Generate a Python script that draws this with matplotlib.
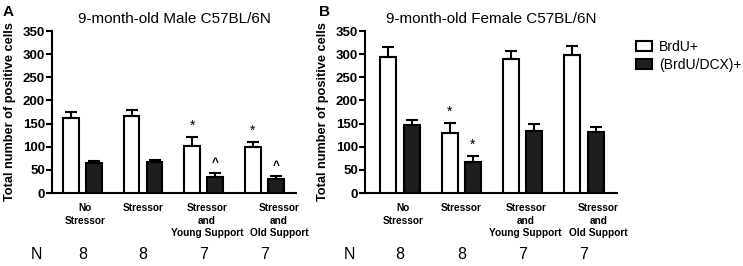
import matplotlib.pyplot as plt
import numpy as np

plt.rcParams['font.family'] = ['Liberation Sans', 'DejaVu Sans']

# Groups and sample sizes
groups = ['No\nStressor', 'Stressor', 'Stressor\nand\nYoung Support', 'Stressor\nand\nOld Support']
n_values = ['8', '8', '7', '7']

# Male (panel A)
male_brdu = [161, 167, 101, 100]
male_brdu_err = [13, 13, 21, 11]
male_dcx = [64, 66, 34, 30]
male_dcx_err = [6, 6, 9, 7]

# Female (panel B)
female_brdu = [293, 130, 289, 298]
female_brdu_err = [22, 22, 17, 19]
female_dcx = [146, 67, 133, 131]
female_dcx_err = [12, 13, 15, 11]

# significance marks: (group, series, symbol)
male_marks = [(2, 0, '*'), (3, 0, '*'), (2, 1, '^'), (3, 1, '^')]
female_marks = [(1, 0, '*'), (1, 1, '*')]

fig = plt.figure(figsize=(7.43, 2.66), dpi=100)
ax1 = fig.add_axes([52 / 743, 73 / 266, 244 / 743, 162 / 266])
ax2 = fig.add_axes([365 / 743, 73 / 266, 252 / 743, 162 / 266])

x = np.arange(len(groups))
w = 0.26
off = 0.19
label_shift = [0.05, 0.0, 0.05, 0.24]


def draw_panel(ax, brdu, brdu_err, dcx, dcx_err, marks, title, xlim):
    err_kw = dict(ecolor='black', elinewidth=1.5, capsize=4, capthick=1.5)
    ax.bar(x - off, brdu, w, yerr=[np.zeros(4), brdu_err], color='white',
           edgecolor='black', linewidth=1.5, error_kw=err_kw, label='BrdU+', zorder=3)
    ax.bar(x + off, dcx, w, yerr=[np.zeros(4), dcx_err], color='#1e1e1e',
           edgecolor='black', linewidth=1.5, error_kw=err_kw, label='(BrdU/DCX)+', zorder=3)
    for g, s, sym in marks:
        if s == 0:
            top = brdu[g] + brdu_err[g]
            xp = x[g] - off
        else:
            top = dcx[g] + dcx_err[g]
            xp = x[g] + off
        if sym == '*':
            ax.text(xp, top + 8, '*', ha='center', va='bottom', fontsize=10)
        else:
            ax.text(xp, top + 8, '^', ha='center', va='bottom', fontsize=8.5, fontweight='bold')
    ax.set_ylim(0, 350)
    ax.set_xlim(*xlim)
    ax.set_yticks(range(0, 351, 50))
    ax.set_xticks([])
    ax.tick_params(axis='y', length=4, width=1.5, labelsize=9.5, pad=1)
    for lab in ax.get_yticklabels():
        lab.set_fontweight('bold')
    for sp in ['top', 'right']:
        ax.spines[sp].set_visible(False)
    for sp in ['left', 'bottom']:
        ax.spines[sp].set_linewidth(1.5)
    ax.set_ylabel('Total number of positive cells', fontsize=9.2, fontweight='bold', labelpad=5)
    ax.set_title(title, fontsize=11, pad=6)
    trans = ax.get_xaxis_transform()
    # category labels
    for xi, g, sh in zip(x, groups, label_shift):
        ax.text(xi + sh, -0.06, g, transform=trans, ha='center', va='top',
                fontsize=7.3, fontweight='bold', linespacing=1.35)
    # N row
    for xi, n in zip(x, n_values):
        ax.text(xi, -0.38, n, transform=trans, ha='center', va='center', fontsize=11.5)
    ax.text(xlim[0] - 0.25, -0.38, 'N', transform=trans, ha='center', va='center', fontsize=11.5)


draw_panel(ax1, male_brdu, male_brdu_err, male_dcx, male_dcx_err, male_marks,
           '9-month-old Male C57BL/6N', (-0.5, 3.52))
draw_panel(ax2, female_brdu, female_brdu_err, female_dcx, female_dcx_err, female_marks,
           '9-month-old Female C57BL/6N', (-0.57, 3.54))

fig.text(3 / 743, 1 - 12.5 / 266, 'A', fontsize=11, fontweight='bold', va='center')
fig.text(319 / 743, 1 - 12.5 / 266, 'B', fontsize=11, fontweight='bold', va='center')

handles, labels = ax2.get_legend_handles_labels()
fig.legend(handles, labels, loc='upper left', bbox_to_anchor=(630 / 743, 1 - 34 / 266),
           frameon=False, fontsize=10, handlelength=1.15, handleheight=0.75,
           handletextpad=0.55, labelspacing=0.3, borderaxespad=0)

plt.savefig('out.png', dpi=100)
